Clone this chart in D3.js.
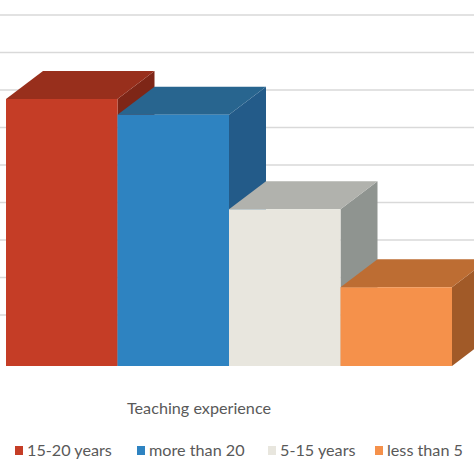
<!DOCTYPE html>
<html>
<head>
<meta charset="utf-8">
<script src="https://cdn.jsdelivr.net/npm/d3@7"></script>
<style>
  html, body { margin: 0; padding: 0; background: #fff; }
  svg { display: block; }
</style>
</head>
<body>
<svg id="chart" width="474" height="474"></svg>
<script>
// share of teachers by experience group (%)
const categories = ["15-20 years", "more than 20", "5-15 years", "less than 5"];
const values     = [35.6, 33.5, 20.9, 10.5];
const gridTicks  = [5, 10, 15, 20, 25, 30, 35, 40, 45];

const FRONT = ["#c53d26", "#2e83c1", "#e8e6de", "#f5914b"];
const TOP   = ["#982f1c", "#28658f", "#b1b2ad", "#bd6d33"];
const SIDE  = ["#7e2617", "#235b89", "#8f9490", "#a15a28"];

const DX = 37, DY = 28;   // depth offset of the 3D boxes
const FLOOR = 366;

const svg = d3.select("#chart");
const x = d3.scaleBand().domain(categories).range([6, 452]).padding(0);
const y = d3.scaleLinear().domain([0, 45]).range([FLOOR, FLOOR - 337.5]);
// back wall sits a bit higher than the bar fronts
const yWall = d3.scaleLinear().domain([0, 45]).range([FLOOR - 13.5, 15]);

svg.append("g").selectAll("line")
  .data(gridTicks)
  .join("line")
  .attr("x1", 0).attr("x2", 474)
  .attr("y1", d => yWall(d)).attr("y2", d => yWall(d))
  .attr("stroke", "#d9d9d9")
  .attr("stroke-width", 1.5);

const bars = svg.append("g");
categories.forEach((c, i) => {
  const x0 = x(c), x1 = x(c) + x.bandwidth();
  const yt = y(values[i]);
  const g = bars.append("g");
  // side
  g.append("polygon")
    .attr("points", [[x1, yt], [x1 + DX, yt - DY], [x1 + DX, FLOOR - DY], [x1, FLOOR]].join(" "))
    .attr("fill", SIDE[i]);
  // top
  g.append("polygon")
    .attr("points", [[x0, yt], [x1, yt], [x1 + DX, yt - DY], [x0 + DX, yt - DY]].join(" "))
    .attr("fill", TOP[i]);
  // front
  g.append("rect")
    .attr("x", x0).attr("y", yt)
    .attr("width", x1 - x0).attr("height", FLOOR - yt)
    .attr("fill", FRONT[i]);
});

const FONT = "Lato, 'Open Sans', sans-serif";

svg.append("text")
  .attr("x", 199).attr("y", 414)
  .attr("text-anchor", "middle")
  .attr("font-family", FONT)
  .attr("font-size", 16.2)
  .attr("fill", "#595959")
  .text("Teaching experience");

const legendX = [15, 137, 268, 375];
const legend = svg.append("g").selectAll("g")
  .data(categories)
  .join("g")
  .attr("transform", (d, i) => `translate(${legendX[i]},446)`);

legend.append("rect")
  .attr("width", 8).attr("height", 9)
  .attr("fill", (d, i) => FRONT[i]);

legend.append("text")
  .attr("x", 12).attr("y", 10)
  .attr("font-family", FONT)
  .attr("font-size", 16.2)
  .attr("fill", "#595959")
  .text(d => d);
</script>
</body>
</html>
